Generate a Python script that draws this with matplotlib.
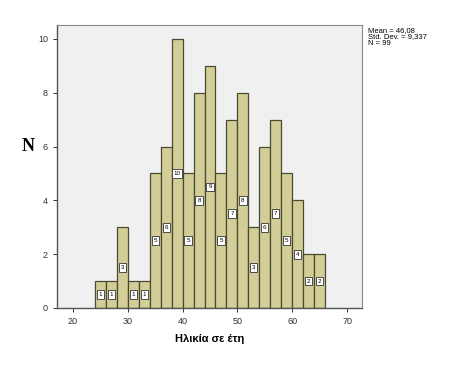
import numpy as np
import matplotlib.pyplot as plt

plt.rcParams["font.family"] = ["Liberation Sans", "DejaVu Sans"]

bin_edges = [24, 26, 28, 30, 32, 34, 36, 38, 40, 42, 44, 46, 48, 50, 52, 54, 56, 58, 60, 62, 64, 66]
counts = [1, 1, 3, 1, 1, 5, 6, 10, 5, 8, 9, 5, 7, 8, 3, 6, 7, 5, 4, 2, 2]
stats_text = "Mean = 46,08\nStd. Dev. = 9,337\nN = 99"

fig = plt.figure(figsize=(4.51, 3.70), dpi=100)
ax = fig.add_axes([0.1264, 0.1676, 0.676, 0.765])
ax.set_facecolor("#f0f0f0")

left = np.array(bin_edges[:-1])
width = np.diff(bin_edges)
ax.bar(left, counts, width=width, align="edge", color="#d3ce97",
       edgecolor="#4a4a30", linewidth=0.9)

for x, w, c in zip(left, width, counts):
    ax.text(x + w / 2, c / 2, str(c), ha="center", va="center", fontsize=4.5,
            bbox=dict(boxstyle="square,pad=0.3", fc="white", ec="#333333", lw=0.6))

ax.set_xlim(17.1, 72.7)
ax.set_ylim(0, 10.52)
ax.set_xticks([20, 30, 40, 50, 60, 70])
ax.set_yticks([0, 2, 4, 6, 8, 10])
ax.tick_params(labelsize=6.5, length=3, width=0.7, colors="#333333")
for s in ["left", "bottom"]:
    ax.spines[s].set_color("#555555")
    ax.spines[s].set_linewidth(1.0)
for s in ["top", "right"]:
    ax.spines[s].set_color("#888888")
    ax.spines[s].set_linewidth(0.8)

ax.set_xlabel("Ηλικία σε έτη", fontsize=8, fontweight="bold", labelpad=6)
fig.text(0.062, 0.603, "N", fontsize=13, fontweight="bold", family="Liberation Serif",
         ha="center", va="center")
fig.text(0.815, 0.928, stats_text, fontsize=5.5, va="top", ha="left", linespacing=0.95)

fig.savefig("out.png", dpi=100)
